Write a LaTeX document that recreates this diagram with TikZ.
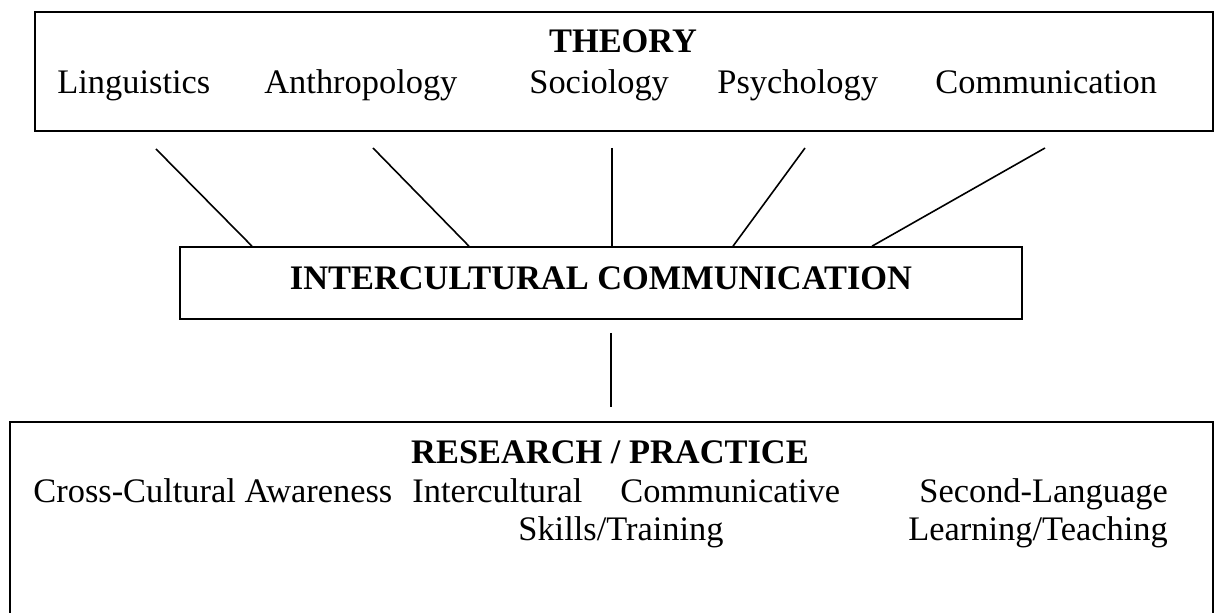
\documentclass[tikz,border=0pt]{standalone}
\usepackage{fontspec}
\setmainfont{Liberation Serif}
\newcommand{\figfont}{\fontsize{17.2}{20.6}\selectfont}
\tikzstyle{box}=[draw, line width=0.8pt, inner sep=0]
\tikzstyle{lbl}=[inner sep=0, anchor=base west, font=\figfont]
\tikzstyle{hd}=[inner sep=0, anchor=base, font=\figfont\bfseries]
\tikzstyle{ln}=[line width=0.8pt]

\begin{document}
\begin{tikzpicture}[x=0.5pt, y=-0.5pt]
\useasboundingbox (0,0) rectangle (1219,613);
% top box: the disciplines
\node at (624,71.5)[box, minimum width=589pt, minimum height=59.5pt](theory){};
\node at (623,53)[hd](th){THEORY};
\node at (57,94)[lbl](ling){Linguistics};
\node at (264,94)[lbl](anth){Anthropology};
\node at (529,94)[lbl](soc){Sociology};
\node at (717,94)[lbl](psy){Psychology};
\node at (935,94)[lbl](comm){Communication};
% middle box
\node at (601,283)[box, minimum width=421pt, minimum height=36pt](ic){};
\node at (601,290)[hd](ict){INTERCULTURAL COMMUNICATION};
% bottom box, open below
\draw[ln] (10,613) -- (10,422) -- (1213,422) -- (1213,613);
\node at (610,464)[hd](rp){RESEARCH / PRACTICE};
\node at (33,503)[lbl](cca){Cross-Cultural Awareness};
\node at (412,503)[lbl](icc){Intercultural};
\node at (620,503)[lbl](icm){Communicative};
\node at (518,540)[lbl](ics){Skills/Training};
\node at (919,503)[lbl](sl){Second-Language};
\node at (908,540)[lbl](slt){Learning/Teaching};
% links
\coordinate (t1) at (156,149);
\coordinate (t2) at (373,148);
\coordinate (t3) at (612,148);
\coordinate (t4) at (805,148);
\coordinate (t5) at (1045,148);
\draw[ln] (t1)--(252,0 |- ic.north);
\draw[ln] (t2)--(469,0 |- ic.north);
\draw[ln] (t3)--(612,0 |- ic.north);
\draw[ln] (t4)--(733,0 |- ic.north);
\draw[ln] (t5)--(872,0 |- ic.north);
\coordinate (b1) at (611,333);
\coordinate (b2) at (611,407);
\draw[ln] (b1)--(b2);
\end{tikzpicture}
\end{document}
